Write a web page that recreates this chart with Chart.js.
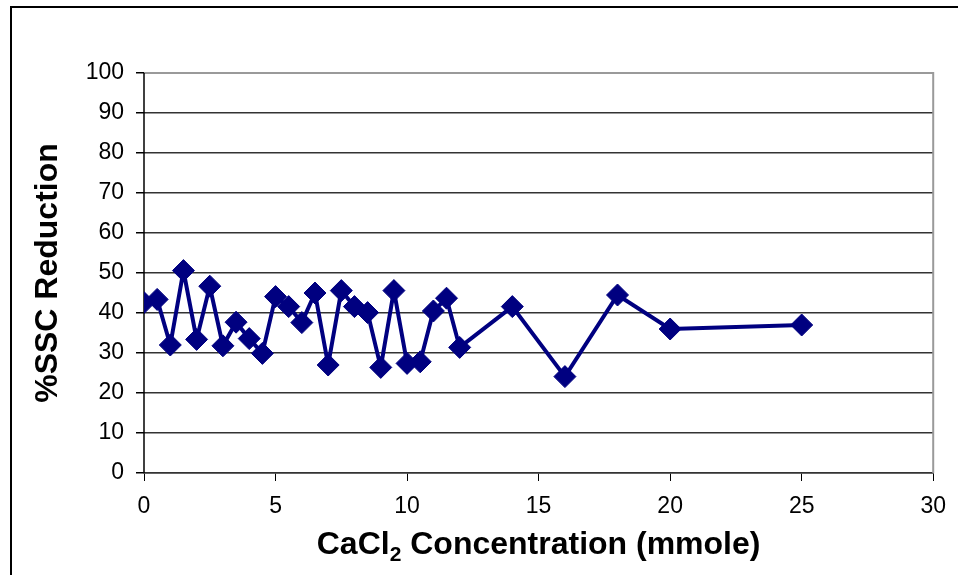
<!DOCTYPE html>
<html>
<head>
<meta charset="utf-8">
<script src="https://cdn.jsdelivr.net/npm/chart.js@4/dist/chart.umd.min.js"></script>
<style>
  html, body { margin: 0; padding: 0; background: #fff; }
  #wrap { position: relative; width: 958px; height: 575px; overflow: hidden; }
  #frame { position: absolute; left: 10px; top: 6px; width: 1000px; height: 700px; border: 2px solid #000; box-sizing: border-box; }
  #c { position: absolute; left: 0; top: 0; }
</style>
</head>
<body>
<div id="wrap">
  <div id="frame"></div>
  <canvas id="c" width="958" height="575"></canvas>
</div>
<script>
// Datos
const concentration = [0, 0.5, 1, 1.5, 2, 2.5, 3, 3.5, 4, 4.5, 5, 5.5, 6, 6.5, 7, 7.5, 8, 8.5, 9, 9.5, 10, 10.5, 11, 11.5, 12, 14, 16, 18, 20, 25];
const reduction = [42.6, 43.4, 32, 50.6, 33.4, 46.7, 31.8, 37.7, 33.6, 29.9, 44.1, 41.6, 37.6, 45, 27, 45.6, 41.6, 40.1, 26.4, 45.6, 27.4, 27.8, 40.5, 43.7, 31.4, 41.6, 24.1, 44.5, 36, 37];
const xTicks = [0, 5, 10, 15, 20, 25, 30];
const yTicks = [0, 10, 20, 30, 40, 50, 60, 70, 80, 90, 100];

const points = concentration.map((x, i) => ({ x: x, y: reduction[i] }));
const FONT = '"Liberation Sans", Arial, Helvetica, sans-serif';

// Borde gris del área de trazado
const plotBorder = {
    id: 'plotBorder',
    beforeDatasetsDraw(chart) {
        const { ctx, chartArea: a } = chart;
        ctx.save();
        ctx.strokeStyle = '#9a9a9a';
        ctx.lineWidth = 2;
        ctx.beginPath();
        ctx.moveTo(a.left, a.top);
        ctx.lineTo(a.right, a.top);
        ctx.lineTo(a.right, a.bottom);
        ctx.stroke();
        ctx.strokeStyle = '#000';
        ctx.lineWidth = 1.5;
        ctx.beginPath();
        ctx.moveTo(a.left, a.top);
        ctx.lineTo(a.left, a.bottom);
        ctx.stroke();
        ctx.restore();
    }
};

// Títulos de los ejes (el de X lleva subíndice)
const axisTitles = {
    id: 'axisTitles',
    afterDraw(chart) {
        const { ctx, chartArea: a } = chart;
        ctx.save();
        ctx.fillStyle = '#000';
        const big = 'bold 32px ' + FONT;
        const small = 'bold 21px ' + FONT;

        // eje Y
        ctx.save();
        ctx.translate(48, (a.top + a.bottom) / 2);
        ctx.rotate(-Math.PI / 2);
        ctx.font = big;
        ctx.textAlign = 'center';
        ctx.textBaseline = 'middle';
        ctx.fillText('%SSC Reduction', 0, 0);
        ctx.restore();

        // eje X
        ctx.textBaseline = 'alphabetic';
        const parts = [['CaCl', big, 0], ['2', small, 7], [' Concentration (mmole)', big, 0]];
        let total = 0;
        parts.forEach(p => { ctx.font = p[1]; total += ctx.measureText(p[0]).width; });
        let x = (a.left + a.right) / 2 - total / 2;
        const y = 554;
        parts.forEach(p => {
            ctx.font = p[1];
            ctx.fillText(p[0], x, y + p[2]);
            x += ctx.measureText(p[0]).width;
        });
        ctx.restore();
    }
};

new Chart(document.getElementById('c'), {
    type: 'scatter',
    data: {
        datasets: [{
            data: points,
            showLine: true,
            borderColor: '#000080',
            backgroundColor: '#000080',
            borderWidth: 4,
            pointStyle: 'rectRot',
            pointRadius: 11,
            pointHoverRadius: 11,
            pointBorderWidth: 1
        }]
    },
    options: {
        responsive: false,
        animation: false,
        events: [],
        layout: { padding: { top: 73, right: 24, left: 0, bottom: 0 } },
        plugins: { legend: { display: false }, tooltip: { enabled: false } },
        scales: {
            x: {
                type: 'linear',
                min: 0, max: 30,
                afterBuildTicks: s => { s.ticks = xTicks.map(v => ({ value: v })); },
                afterFit: s => { s.height = 102; },
                grid: { drawOnChartArea: false, tickLength: 8, color: '#000', tickColor: '#000' },
                border: { display: true, color: '#333', width: 1.5 },
                ticks: { color: '#000', font: { family: FONT, size: 23 }, padding: 12, maxRotation: 0 }
            },
            y: {
                min: 0, max: 100,
                afterBuildTicks: s => { s.ticks = yTicks.map(v => ({ value: v })); },
                afterFit: s => { s.width = 144; },
                grid: {
                    tickLength: 8,
                    color: c => c.tick && c.tick.value === 100 ? '#9a9a9a' : '#333',
                    tickColor: '#000',
                    lineWidth: 1.5
                },
                border: { display: false },
                ticks: { color: '#000', font: { family: FONT, size: 23 }, padding: 12 }
            }
        }
    },
    plugins: [plotBorder, axisTitles]
});
</script>
</body>
</html>
